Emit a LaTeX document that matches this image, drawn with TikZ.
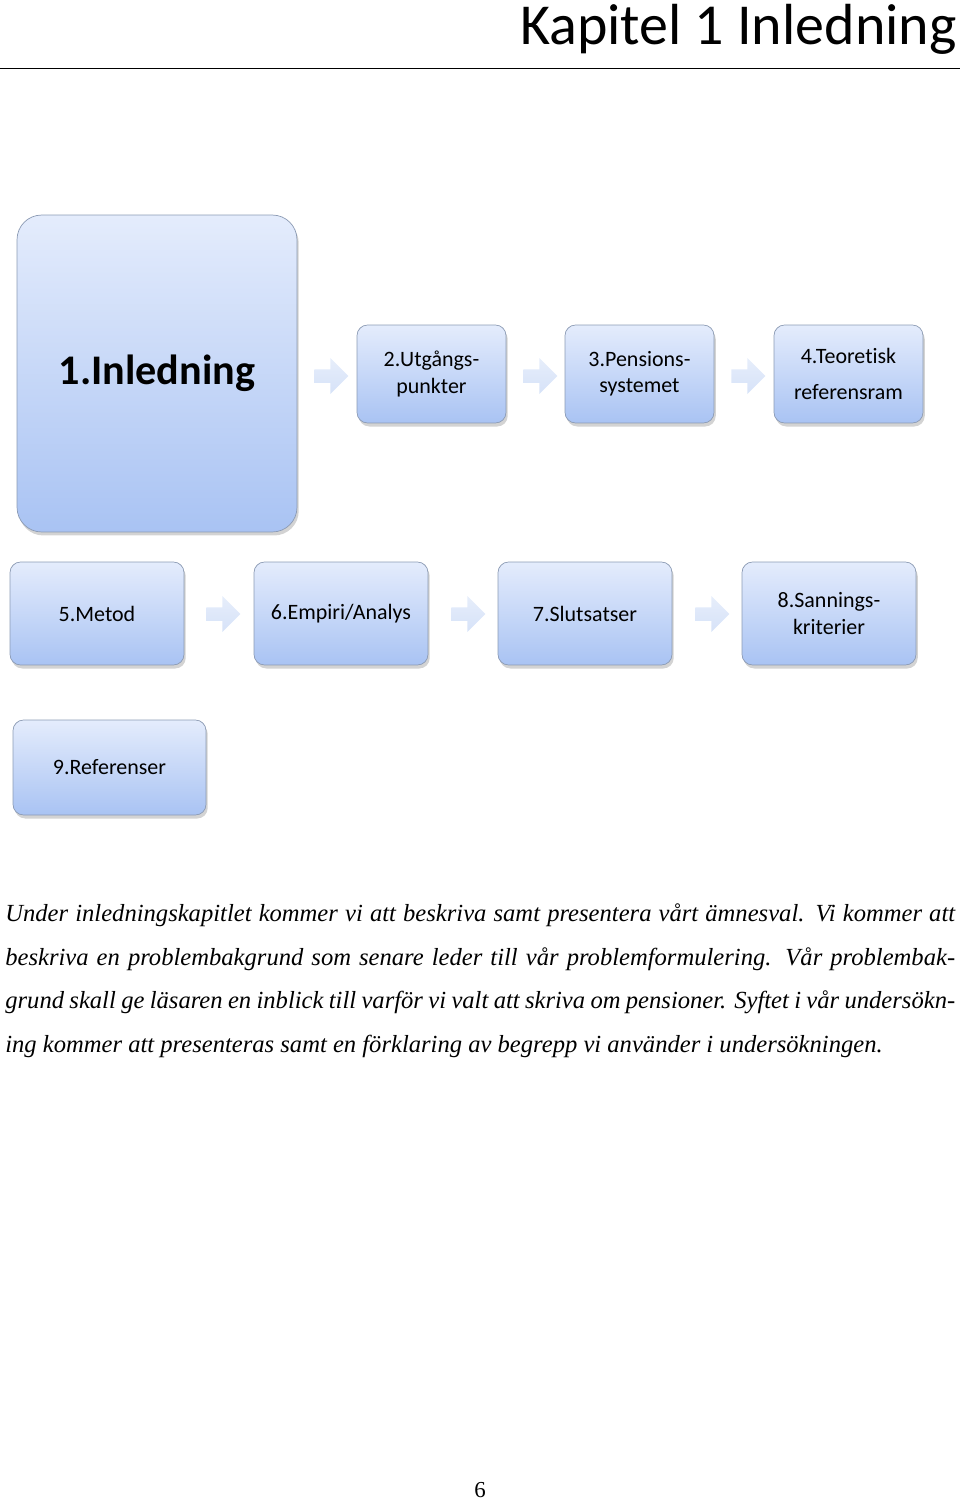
\documentclass[tikz,border=0pt]{standalone}
\usepackage{fontspec}
\setmainfont{Liberation Serif}
\newfontfamily\boxfont[Ligatures=NoCommon]{Carlito}
\usetikzlibrary{shapes.arrows,shadows}
\definecolor{boxtop}{HTML}{E4ECFC}
\definecolor{boxbot}{HTML}{A9C3F3}
\definecolor{boxline}{HTML}{8C9BB4}
\definecolor{arrowfill}{HTML}{D6E2F8}
\begin{document}
\begin{tikzpicture}[x=0.02cm,y=-0.02cm,
  chapbox/.style={shape=rectangle,rounded corners=6pt,draw=boxline,top color=boxtop,bottom color=boxbot,
    drop shadow={shadow xshift=1pt,shadow yshift=-2pt,opacity=0.35},align=center,font=\boxfont\fontsize{12.5}{15}\selectfont},
  flow/.style={single arrow,draw=none,top color=arrowfill!60,bottom color=arrowfill,minimum height=0.68cm,minimum width=0.72cm,single arrow head extend=2pt,inner sep=1pt}]
\useasboundingbox (0,0) rectangle (960,1501);
\node[anchor=base east,inner sep=0pt,font=\boxfont\fontsize{33}{36}\selectfont] (title) at (957,44) {Kapitel 1 Inledning};
\draw[thin] (0,68) -- (960,68);
% row one
\node[chapbox,minimum width=5.6cm,minimum height=6.34cm,rounded corners=14pt,font=\boxfont\bfseries\fontsize{24}{28}\selectfont] (c1) at (157,373.5) {1.Inledning};
\node[chapbox,minimum width=2.98cm,minimum height=1.96cm] (c2) at (431.5,374) {2.Utgångs-\\punkter};
\node[chapbox,minimum width=2.98cm,minimum height=1.96cm] (c3) at (639.5,374) {3.Pensions-\\systemet};
\node[chapbox,minimum width=2.98cm,minimum height=1.96cm,font=\boxfont\fontsize{12.5}{20}\selectfont] (c4) at (848.5,374) {4.Teoretisk\\referensram};
\node[flow] (a12) at (328,376) {};
\node[flow] (a23) at (537,376) {};
\node[flow] (a34) at (745,376) {};
% row two
\node[chapbox,minimum width=3.48cm,minimum height=2.06cm] (c5) at (97,613.5) {5.Metod};
\node[chapbox,minimum width=3.48cm,minimum height=2.06cm] (c6) at (341,613.5) {6.Empiri/Analys};
\node[chapbox,minimum width=3.48cm,minimum height=2.06cm] (c7) at (585,613.5) {7.Slutsatser};
\node[chapbox,minimum width=3.48cm,minimum height=2.06cm] (c8) at (829,613.5) {8.Sannings-\\kriterier};
\node[flow] (a56) at (220,614) {};
\node[flow] (a67) at (465,614) {};
\node[flow] (a78) at (709,614) {};
% row three
\node[chapbox,minimum width=3.86cm,minimum height=1.9cm] (c9) at (109.5,767.5) {9.Referenser};
% text
\node[anchor=north west,inner sep=0pt,text width=19cm,align=justify,font=\itshape\fontsize{14}{25}\selectfont] (intro) at (5,903)
{Under inledningskapitlet kommer vi att beskriva samt presentera vårt ämnesval. Vi kommer att beskriva en problembakgrund som senare leder till vår problemformulering. Vår problembakgrund skall ge läsaren en inblick till varför vi valt att skriva om pensioner. Syftet i vår undersökning kommer att presenteras samt en förklaring av begrepp vi använder i undersökningen.};
\node[font=\fontsize{13}{15}\selectfont] (page) at (480,1490) {6};
\end{tikzpicture}
\end{document}
